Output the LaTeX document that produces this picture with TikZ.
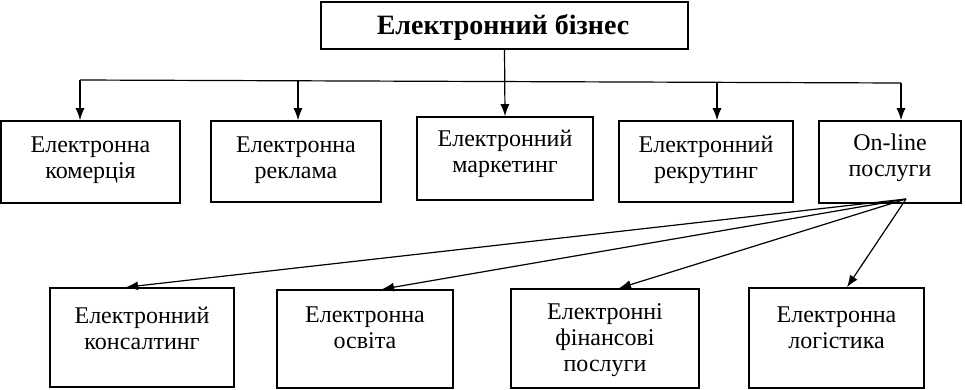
\documentclass[tikz,border=0pt]{standalone}
\usepackage{fontspec}
\setmainfont{Liberation Serif}
\usetikzlibrary{arrows.meta,calc}
\begin{document}
\begin{tikzpicture}[x=1pt,y=-1pt,
  box/.style={draw=black,line width=1.6pt,rectangle,inner sep=0pt},
  txt/.style={align=center,inner sep=0pt,font=\fontsize{24}{26}\selectfont},
  conn/.style={line width=1.2pt},
  arr/.style={line width=1.2pt,-{Latex[length=12pt,width=9pt]}}]
\useasboundingbox (0,0) rectangle (966,389);
% top
\node[box,minimum width=367pt,minimum height=47pt] (top) at (504.5,25.5) {};
\node[inner sep=0pt,font=\fontsize{28}{30}\selectfont\bfseries] (topt) at (503,27) {Електронний бізнес};
% row 1
\node[box,minimum width=179pt,minimum height=82pt] (b1) at (90.5,162) {};
\node[box,minimum width=170pt,minimum height=81pt] (b2) at (296,161.5) {};
\node[box,minimum width=176pt,minimum height=83pt] (b3) at (505,158.5) {};
\node[box,minimum width=174pt,minimum height=81pt] (b4) at (706,161.5) {};
\node[box,minimum width=142pt,minimum height=82pt] (b5) at (890,162) {};
\node[txt] (b1t) at (90.5,160) {Електронна\\комерція};
\node[txt] (b2t) at (296,160) {Електронна\\реклама};
\node[txt] (b3t) at (505,154) {Електронний\\маркетинг};
\node[txt] (b4t) at (706,160) {Електронний\\рекрутинг};
\node[txt] (b5t) at (890,158) {On-line\\послуги};
% row 2
\node[box,minimum width=184pt,minimum height=99pt] (c1) at (142,337.5) {};
\node[box,minimum width=176pt,minimum height=98pt] (c2) at (365,339) {};
\node[box,minimum width=188pt,minimum height=99pt] (c3) at (605,338.5) {};
\node[box,minimum width=175pt,minimum height=100pt] (c4) at (836.5,338) {};
\node[txt] (c1t) at (142,328) {Електронний\\консалтинг};
\node[txt] (c2t) at (365,328) {Електронна\\освіта};
\node[txt] (c3t) at (605,340) {Електронні\\фінансові\\послуги};
\node[txt] (c4t) at (836.5,328) {Електронна\\логістика};
% bus
\coordinate (j1) at (80,80);
\coordinate (j2) at (298,80.8);
\coordinate (j4) at (717,82.2);
\coordinate (j5) at (901,83);
\draw[conn] (j1) -- (j5);
\draw[arr] (top.south) -- (b3.north);
\draw[arr] (j1) -- (j1 |- b1.north);
\draw[arr] (j2) -- (j2 |- b2.north);
\draw[arr] (j4) -- (j4 |- b4.north);
\draw[arr] (j5) -- (j5 |- b5.north);
% fan
\coordinate (o) at (906,199);
\draw[arr] (o) -- ([xshift=-16pt]c1.north);
\draw[arr] (o) -- ([xshift=17pt]c2.north);
\draw[arr] (o) -- ([xshift=14pt]c3.north);
\draw[arr] (o) -- ([xshift=10.5pt]c4.north);
\end{tikzpicture}
\end{document}
